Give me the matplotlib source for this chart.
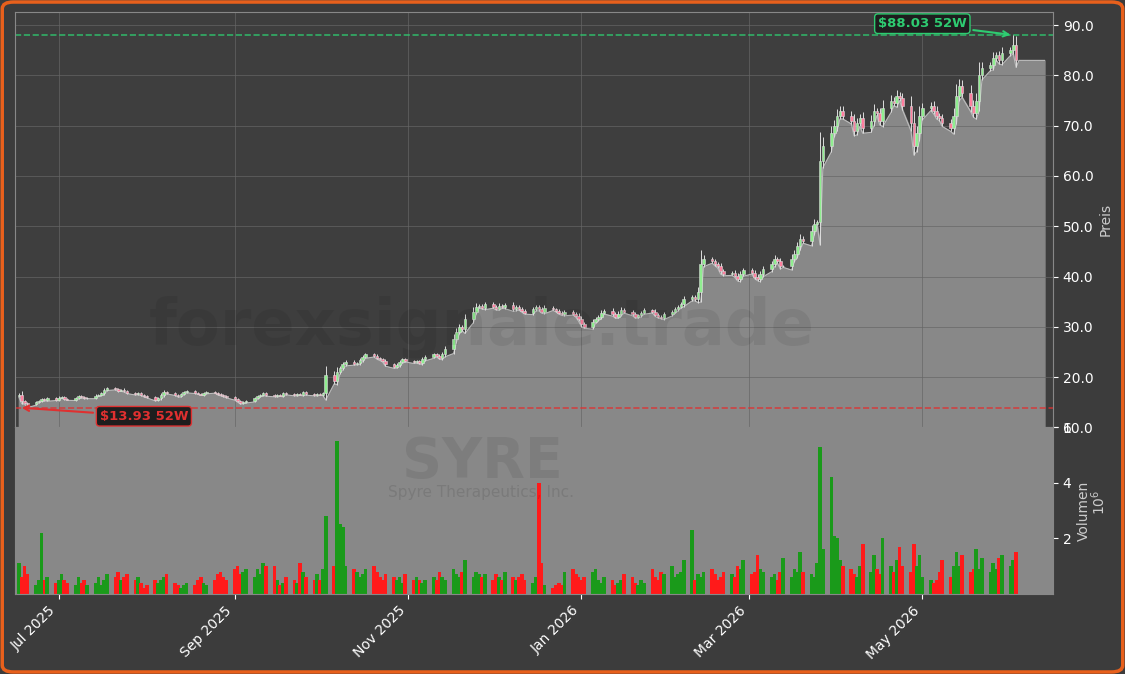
import numpy as np
import pandas as pd
import matplotlib
matplotlib.use("Agg")
import matplotlib.pyplot as plt
import matplotlib.dates as mdates
from matplotlib.patches import FancyBboxPatch

closes = [
 16.5,15.2,14.8,14.6,15.0,15.3,15.6,15.4,15.8,
 15.5,15.9,16.0,15.7,15.5,15.8,16.2,16.0,15.8,15.9,16.3,16.5,16.8,17.5,17.8,17.6,17.3,17.5,17.2,16.9,16.6,16.8,
 16.5,16.2,16.0,15.5,15.8,16.4,17.0,16.8,16.5,16.2,16.6,17.0,17.2,16.9,16.7,16.5,16.8,17.0,16.9,16.6,16.4,
 16.2,16.0,15.6,15.2,14.8,15.0,15.3,15.8,16.2,16.5,16.8,16.4,16.2,16.5,16.3,16.8,16.6,16.4,16.7,16.5,17.0,
 16.6,16.4,16.7,16.5,16.8,
 20.5,19.2,21.0,21.8,22.5,23.0,22.6,22.8,23.4,24.0,24.5,24.2,23.8,23.5,23.2,22.5,22.0,22.4,23.0,23.5,23.2,22.9,23.1,
 22.8,23.5,24.0,24.5,24.2,23.8,24.5,25.5,27.5,29.0,30.0,29.5,31.5,33.0,34.0,34.2,33.8,34.5,34.0,33.6,34.2,33.9,34.3,
 33.5,34.0,33.6,33.2,32.8,33.5,34.0,33.5,33.0,33.8,33.5,33.2,32.8,32.5,33.0,32.6,32.2,31.5,30.5,30.0,31.0,
 31.5,32.0,32.8,33.2,32.5,32.0,32.6,33.4,33.0,32.5,32.0,32.3,32.8,33.3,33.0,32.4,32.0,31.8,32.5,33.0,
 33.5,34.0,34.5,35.5,36.0,35.5,37.0,42.5,43.5,43.0,42.5,42.0,41.0,40.5,40.8,40.2,39.5,40.5,41.2,
 40.8,40.0,39.5,40.5,41.5,42.5,43.5,43.0,42.0,42.0,43.5,44.5,46.0,47.5,47.0,49.0,50.5,50.8,
 63.0,66.0,68.5,70.0,72.0,73.0,72.0,71.0,69.0,70.5,71.5,69.5,71.0,73.0,72.5,71.0,73.5,75.0,74.5,76.0,75.5,
 74.0,70.5,66.0,68.5,72.0,73.5,74.0,73.0,72.0,71.5,70.5,69.5,72.0,76.0,78.0,76.5,74.0,72.5,75.0,80.0,
 81.5,82.0,83.5,84.0,83.0,84.5,85.0,86.0,83.0]

volumes = [
 1.1,0.6,1.0,0.7,0.3,0.5,2.2,0.5,0.6,
 0.4,0.5,0.7,0.5,0.4,0.3,0.6,0.4,0.5,0.3,0.4,0.6,0.3,0.5,0.7,0.6,0.8,0.5,0.6,0.7,0.5,0.6,
 0.4,0.2,0.3,0.5,0.4,0.5,0.6,0.7,0.4,0.3,0.2,0.3,0.4,0.3,0.5,0.6,0.4,0.3,0.5,0.7,0.8,
 0.6,0.5,0.9,1.0,0.7,0.8,0.9,0.6,0.9,0.7,1.1,1.0,1.0,0.5,0.3,0.4,0.6,0.5,0.4,1.1,0.8,
 0.6,0.5,0.7,0.5,0.9,
 2.8,1.0,5.5,2.5,2.4,1.0,0.9,0.8,0.6,0.7,0.9,1.0,0.8,0.6,0.5,0.7,0.6,0.5,0.6,0.4,0.7,0.5,0.6,
 0.5,0.4,0.5,0.6,0.5,0.8,0.6,0.5,0.9,0.7,0.6,0.8,1.2,0.6,0.8,0.7,0.6,0.7,0.5,0.7,0.6,0.5,0.8,
 0.6,0.5,0.6,0.7,0.5,0.4,0.6,4.0,1.1,0.3,0.2,0.3,0.4,0.3,0.8,0.9,0.7,0.6,0.5,0.6,0.8,
 0.9,0.5,0.4,0.6,0.5,0.3,0.4,0.5,0.7,0.6,0.4,0.3,0.5,0.4,0.9,0.6,0.5,0.8,0.7,1.0,
 0.6,0.7,0.8,1.2,2.3,0.5,0.7,0.6,0.8,0.9,0.7,0.5,0.6,0.8,0.7,0.6,1.0,0.9,1.2,
 0.7,0.8,1.4,0.9,0.8,0.6,0.7,0.5,0.8,1.3,0.6,0.9,0.8,1.5,0.8,0.7,0.6,1.1,
 5.3,1.6,4.2,2.1,2.0,1.2,1.0,0.9,0.7,0.6,1.0,1.8,0.8,1.4,0.9,0.7,2.0,1.0,0.8,1.2,1.7,
 1.0,0.8,1.8,1.0,1.4,0.6,0.5,0.4,0.5,0.8,1.2,0.6,1.0,1.5,1.0,1.4,0.8,0.9,1.6,0.9,
 1.3,0.8,1.1,0.9,1.3,1.4,1.0,1.2,1.5]

n = min(len(closes), len(volumes))
closes = np.array(closes[:n]); volumes = np.array(volumes[:n]) * 1e6
dates = pd.bdate_range("2025-06-17", periods=n)
opens = np.concatenate([[closes[0] * 0.98], closes[:-1]])
hi = np.maximum(opens, closes); lo = np.minimum(opens, closes)
rng_ = np.abs(closes - opens) + closes * 0.012
highs = hi + rng_ * 0.45
lows = lo - rng_ * 0.35
highs[-2] = 88.03
lows[3] = 13.93
up = closes >= opens

BG = "#3c3c3c"
fig = plt.figure(figsize=(11.25, 6.74), dpi=100, facecolor=BG)
axp = fig.add_axes([0.013, 0.366, 0.923, 0.616], facecolor="#3e3e3e")
axv = fig.add_axes([0.013, 0.119, 0.923, 0.247], facecolor="#888888", sharex=axp)

x = mdates.date2num(dates)
xf = np.concatenate([x, [x[-1] + 1, x[-1] + 10]])
yf = np.concatenate([lows, [83.0, 83.0]])
axp.fill_between(xf, 10, yf, color="#888888", zorder=1)
axp.plot(xf, yf, color="#bbbbbb", lw=0.8, zorder=2)

w = 0.9
for i in range(n):
    c = "#90ee90" if up[i] else "#ff7f9f"
    axp.vlines(x[i], lows[i], highs[i], color="#dddddd", lw=0.7, zorder=3)
    axp.bar(x[i], max(hi[i] - lo[i], 0.05), bottom=lo[i], width=w, color=c,
            edgecolor="#dddddd", lw=0.4, zorder=4)

axp.axhline(88.03, color="#2ecc71", ls="--", lw=1.2, alpha=0.8)
axp.axhline(13.93, color="#e03030", ls="--", lw=1.2, alpha=0.8)
axp.set_ylim(10, 92.6)
axp.set_xlim(x[0] - 1.5, x[-1] + 13)
axp.yaxis.tick_right(); axp.yaxis.set_label_position("right")
axp.set_ylabel("Preis", color="#cccccc", fontsize=10)
axp.set_yticks(np.arange(10, 91, 10))
axp.yaxis.set_major_formatter(matplotlib.ticker.FormatStrFormatter("%.1f"))
axp.tick_params(axis="y", colors="white", labelsize=10)
axp.tick_params(axis="x", labelbottom=False, length=0)
axp.grid(True, color="#666666", lw=0.6, alpha=0.8)
for s in axp.spines.values(): s.set_color("#888888")

axp.annotate("$88.03 52W", xy=(x[-2], 88.03), xytext=(x[-2] - 32, 90.3),
             color="#2ecc71", fontsize=9.5, fontweight="bold", ha="center", va="center",
             bbox=dict(boxstyle="round,pad=0.25", fc="#1e1e1e", ec="#2ecc71"),
             arrowprops=dict(arrowstyle="->", color="#2ecc71", lw=1.5), zorder=10)
axp.annotate("$13.93 52W", xy=(x[0], 13.93), xytext=(x[0] + 44, 12.2),
             color="#e03030", fontsize=9.5, fontweight="bold", ha="center", va="center",
             bbox=dict(boxstyle="round,pad=0.25", fc="#1e1e1e", ec="#e03030"),
             arrowprops=dict(arrowstyle="->", color="#e03030", lw=1.5), zorder=10)

fig.text(0.428, 0.515, "forexsignale.trade", fontsize=46, fontweight="bold",
         color="black", alpha=0.07, ha="center", va="center", zorder=0)
fig.text(0.429, 0.315, "SYRE", fontsize=40, fontweight="bold", color="black",
         alpha=0.08, ha="center", va="center")
fig.text(0.428, 0.270, "Spyre Therapeutics, Inc.", fontsize=11, color="black",
         alpha=0.1, ha="center", va="center")

vc = np.where(up, "#1a9a1a", "#ff1a1a")
axv.bar(x, volumes, width=1.3, color=vc)
axv.set_ylim(0, 6e6)
axv.set_yticks([2e6, 4e6, 6e6])
axv.yaxis.set_major_formatter(matplotlib.ticker.FuncFormatter(lambda v, p: f"{v/1e6:.0f}"))
axv.yaxis.tick_right(); axv.yaxis.set_label_position("right")
axv.set_ylabel("Volumen", color="#cccccc", fontsize=10)
fig.text(0.977, 0.255, r"$10^6$", rotation=90, color="#cccccc", fontsize=10, va="center", ha="center")
axv.tick_params(axis="y", colors="white", labelsize=10)
axv.tick_params(axis="x", colors="white", labelsize=10)
axv.xaxis.set_major_locator(mdates.MonthLocator(bymonth=[1, 3, 5, 7, 9, 11]))
axv.xaxis.set_major_formatter(mdates.DateFormatter("%b %Y"))
for lab in axv.get_xticklabels():
    lab.set_rotation(45); lab.set_ha("right")
for s in axv.spines.values(): s.set_color("#888888")

fig.patches.append(FancyBboxPatch((0.002, 0.003), 0.996, 0.994, boxstyle="round,pad=0,rounding_size=0.01",
                                  transform=fig.transFigure, fill=False, ec="#e8601c", lw=2.5))
fig.savefig("out.png", dpi=100, facecolor=BG)
